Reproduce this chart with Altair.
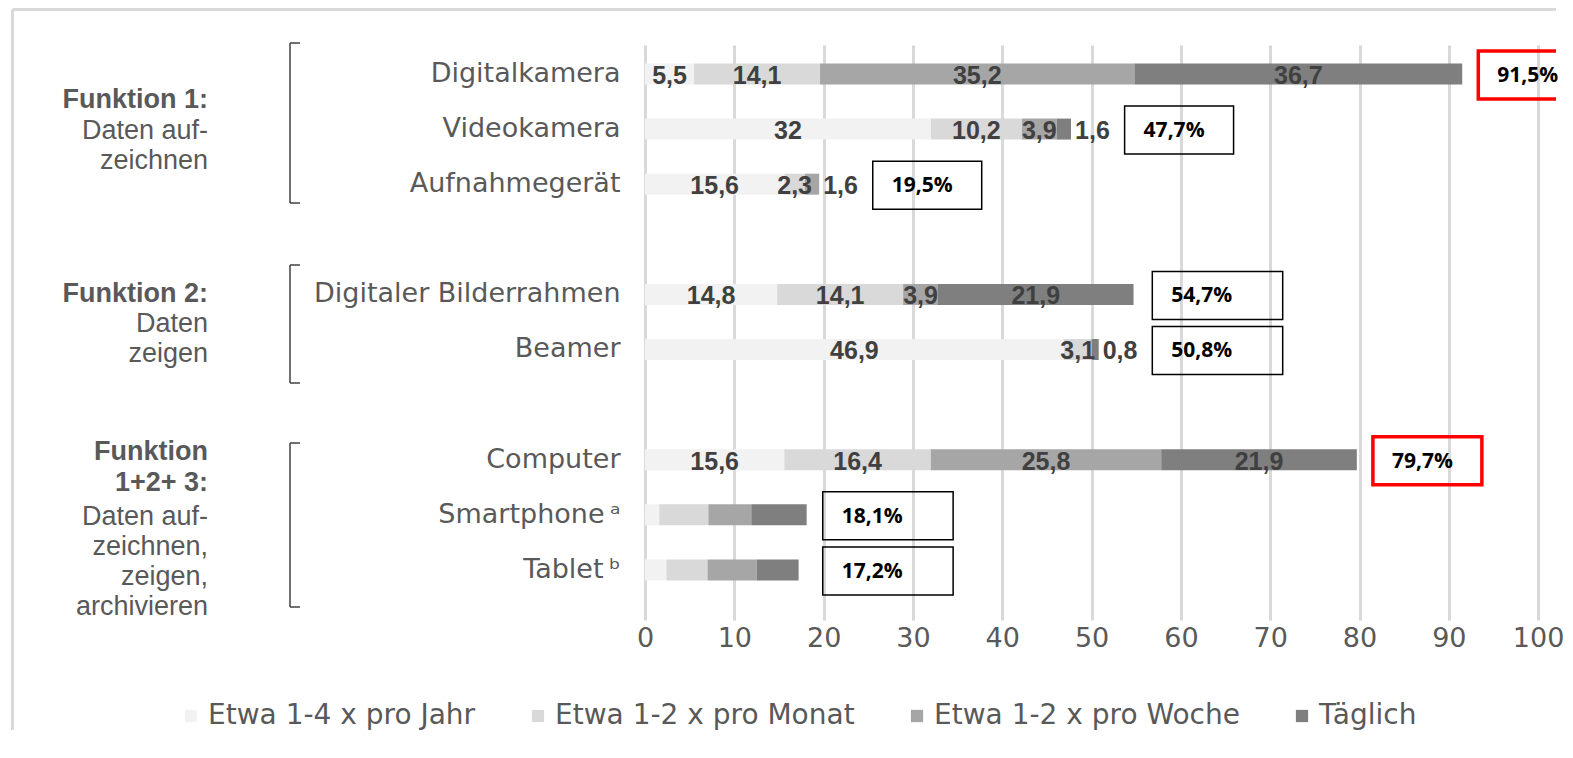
import altair as alt
import pandas as pd

# ---------------- data ----------------
devices = ["Digitalkamera", "Videokamera", "Aufnahmegerät",
           "Digitaler Bilderrahmen", "Beamer",
           "Computer", "Smartphone\u2009ᵃ", "Tablet\u2009ᵇ"]
series = ["Etwa 1-4 x pro Jahr", "Etwa 1-2 x pro Monat",
          "Etwa 1-2 x pro Woche", "Täglich"]
jahr = [5.5, 32.0, 15.6, 14.8, 46.9, 15.6, 1.6, 2.4]
monat = [14.1, 10.2, 2.3, 14.1, 3.1, 16.4, 5.5, 4.6]
woche = [35.2, 3.9, 1.6, 3.9, 0.0, 25.8, 4.8, 5.5]
taeglich = [36.7, 1.6, 0.0, 21.9, 0.8, 21.9, 6.2, 4.7]
labelled = [True, True, True, True, True, True, False, False]
highlight = [True, False, False, False, False, True, False, False]
box_group = [0, 1, 2, 3, 3, 4, 5, 5]

groups_bold = [["Funktion 1:"], ["Funktion 2:"], ["Funktion", "1+2+ 3:"]]
groups_text = [["Daten auf-", "zeichnen"], ["Daten", "zeigen"],
               ["Daten auf-", "zeichnen,", "zeigen,", "archivieren"]]
group_anchor = ["Videokamera", "Digitaler Bilderrahmen", "Smartphone\u2009ᵃ"]

colors = ["#f2f2f2", "#d9d9d9", "#a6a6a6", "#7f7f7f"]
GREY = "#595959"


def de(v):
    s = f"{v:.1f}".replace(".", ",")
    return s[:-2] if s.endswith(",0") else s


# y domain with two empty spacer rows between the groups
y_domain = devices[:3] + [" "] + devices[3:5] + ["  "] + devices[5:]

# ---------------- derived tables ----------------
vals = [jahr, monat, woche, taeglich]
seg_rows = []
box_rows = []
for i, d in enumerate(devices):
    start = 0.0
    nz = [k for k in range(4) if vals[k][i] > 0]
    last = nz[-1]
    total = sum(vals[k][i] for k in range(4))
    outside_any = False
    for k in nz:
        v = vals[k][i]
        end = start + v
        outside = labelled[i] and v < 2 and k == last
        outside_any = outside_any or outside
        seg_rows.append(dict(device=d, series=series[k], order=k, start=start,
                             end=end, mid=(start + end) / 2, label=de(v),
                             inside=labelled[i] and not outside, outside=outside))
        start = end
    box_rows.append(dict(device=d, total=total, hl=highlight[i], grp=box_group[i],
                         text=de(round(total, 1)) + "%",
                         raw_start=total + (6.0 if outside_any else 1.8)))

seg = pd.DataFrame(seg_rows)
box = pd.DataFrame(box_rows)
box["box_start"] = box.groupby("grp")["raw_start"].transform("max")
gsize = box.groupby("grp")["device"].transform("count")
box["box_end"] = box["box_start"] + gsize.map(lambda n: 14.6 if n > 1 else 12.2)

# ---------------- scales / axes ----------------
x_scale = alt.Scale(domain=[0, 102], nice=False, zero=True)
y_scale = alt.Scale(domain=y_domain, paddingInner=0.619, paddingOuter=0.527, align=0.318)
x_axis = alt.Axis(values=list(range(0, 101, 10)), grid=True, gridColor="#d9d9d9",
                  gridWidth=3, domain=False, ticks=False, labelFont="DejaVu Sans",
                  labelFontSize=27, labelColor=GREY, labelPadding=5, labelFlush=False,
                  title=None)
y_axis = alt.Axis(domain=False, ticks=False, labelFont="DejaVu Sans", labelFontSize=27,
                  labelColor=GREY, labelPadding=25, labelLimit=500, title=None)


def X(f):
    return alt.X(f, type="quantitative", scale=x_scale, axis=x_axis)


def Y(f="device"):
    return alt.Y(f, type="nominal", scale=y_scale, axis=y_axis, sort=y_domain)


bars = alt.Chart(seg).mark_bar().encode(
    x=X("start"), x2="end", y=Y(),
    color=alt.Color("series:N", sort=series,
                    scale=alt.Scale(domain=series, range=colors),
                    legend=alt.Legend(orient="none", legendX=-468, legendY=657,
                                      direction="horizontal", title=None,
                                      symbolType="square", symbolSize=150,
                                      symbolStrokeWidth=0, labelFont="DejaVu Sans",
                                      labelFontSize=28, labelColor=GREY,
                                      labelOffset=3, columnPadding=48,
                                      labelLimit=600)),
    order=alt.Order("order:Q"),
)

lab_in = alt.Chart(seg).transform_filter("datum.inside").mark_text(
    font="Liberation Sans", fontWeight="bold", fontSize=25, color="#404040",
    baseline="middle", dy=2).encode(x=X("mid"), y=Y(), text="label:N")

lab_out = alt.Chart(seg).transform_filter("datum.outside").mark_text(
    font="Liberation Sans", fontWeight="bold", fontSize=25, color="#404040",
    baseline="middle", align="left", dx=4, dy=2).encode(x=X("end"), y=Y(), text="label:N")

boxes = alt.Chart(box).mark_bar(height=48, fillOpacity=0, clip=True, yOffset=1).encode(
    x=X("box_start"), x2="box_end", y=Y(),
    stroke=alt.when(alt.datum.hl).then(alt.value("#ff0000")).otherwise(alt.value("#000000")),
    strokeWidth=alt.when(alt.datum.hl).then(alt.value(3.5)).otherwise(alt.value(1.5)),
)

box_txt = alt.Chart(box).mark_text(
    font="Open Sans", fontWeight="bold", fontSize=21, color="#000000",
    align="left", baseline="middle", dx=19, dy=2).encode(
    x=X("box_start"), y=Y(), text="text:N")

layers = [bars, lab_in, lab_out, boxes, box_txt]

# group labels on the left (first line placed at the anchor row + dy)
bold_dy = [-29, 0, -63]
text_dy = [2, 30, 2]
for g in range(3):
    anchor = pd.DataFrame({"device": [group_anchor[g]]})
    layers.append(alt.Chart(anchor).mark_text(
        text=groups_bold[g], font="Liberation Sans", fontWeight="bold", fontSize=27,
        color=GREY, align="right", baseline="middle", lineHeight=31,
        dy=bold_dy[g]).encode(x=alt.value(-437), y=Y()))
    layers.append(alt.Chart(anchor).mark_text(
        text=groups_text[g], font="Liberation Sans", fontSize=27,
        color=GREY, align="right", baseline="middle", lineHeight=30,
        dy=text_dy[g]).encode(x=alt.value(-437), y=Y()))

# brackets
dummy = pd.DataFrame({"k": [0]})
for (t, b) in [(-2, 158), (220, 338), (398, 562)]:
    layers.append(alt.Chart(dummy).mark_rule(color="#404040", strokeWidth=1.5).encode(
        x=alt.value(-355), y=alt.value(t), y2=alt.value(b)))
    for yy in (t, b):
        layers.append(alt.Chart(dummy).mark_rule(color="#404040", strokeWidth=1.5).encode(
            x=alt.value(-355), x2=alt.value(-345), y=alt.value(yy)))

# outer frame (left and top edges visible)
layers.append(alt.Chart(dummy).mark_rule(color="#d9d9d9", strokeWidth=3).encode(
    x=alt.value(-632.5), y=alt.value(-35.5), y2=alt.value(685)))
layers.append(alt.Chart(dummy).mark_rule(color="#d9d9d9", strokeWidth=3).encode(
    x=alt.value(-632.5), x2=alt.value(911), y=alt.value(-35.5)))

chart = alt.layer(*layers).properties(
    width=911, height=575,
    padding={"left": 3, "top": 0, "right": 0, "bottom": 0},
).configure_view(stroke=None)

chart.save("out.html", embed_options={"renderer": "svg", "actions": False})
